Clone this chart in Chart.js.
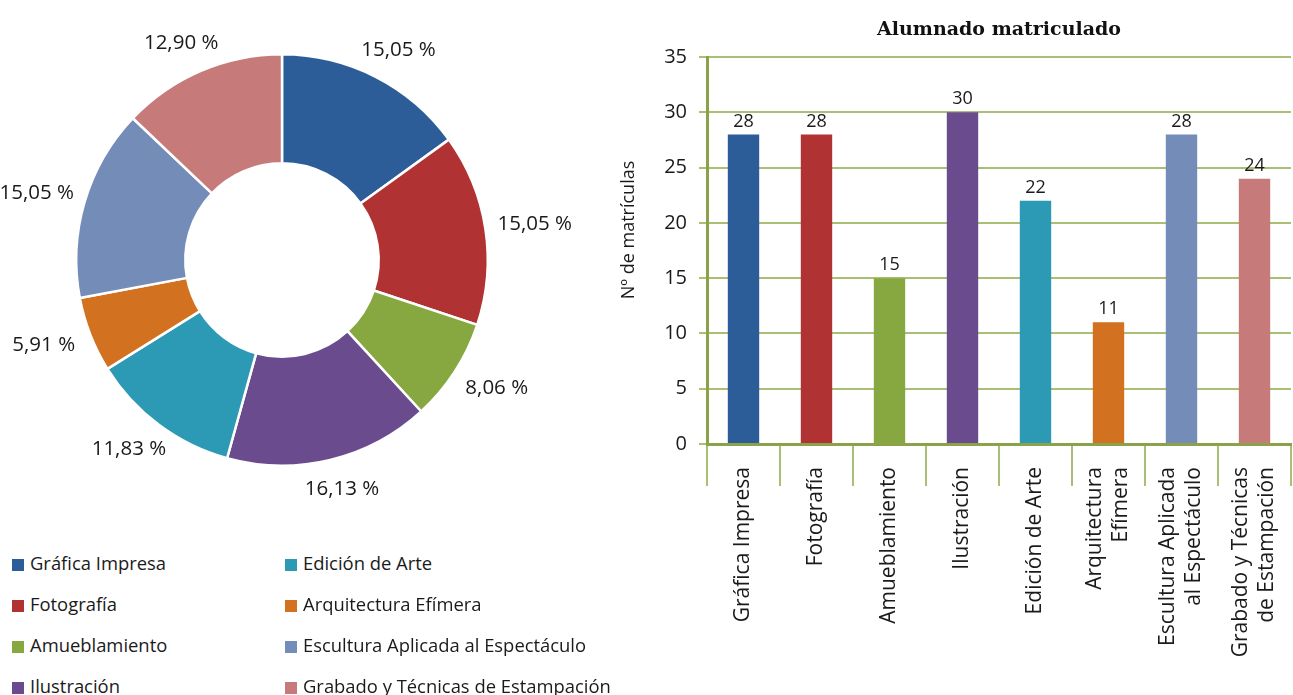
<!DOCTYPE html>
<html>
<head>
<meta charset="utf-8">
<script src="https://cdn.jsdelivr.net/npm/chart.js@4.4.0/dist/chart.umd.min.js"></script>
<style>
    body { margin: 0; background: #fff; width: 1293px; height: 695px; overflow: hidden; position: relative; font-family: 'Open Sans', sans-serif; }
    #pie-wrap { position: absolute; left: 0; top: 0; width: 600px; height: 520px; }
    #bar-wrap { position: absolute; left: 600px; top: 0; width: 693px; height: 695px; }
    .legend-item { position: absolute; font-size: 18.4px; line-height: 20px; color: #1a1a1a; white-space: nowrap; }
    .legend-item .box { display: inline-block; width: 12px; height: 12px; margin-right: 6px; vertical-align: -1px; }
</style>
</head>
<body>
<div id="pie-wrap"><canvas id="pie-chart"></canvas></div>
<div id="bar-wrap"><canvas id="bar-chart"></canvas></div>
<div id="legend"></div>

<script>
// Data
const categories = ['Gráfica Impresa', 'Fotografía', 'Amueblamiento', 'Ilustración', 'Edición de Arte', 'Arquitectura Efímera', 'Escultura Aplicada al Espectáculo', 'Grabado y Técnicas de Estampación'];
const axisLabels = [['Gráfica Impresa'], ['Fotografía'], ['Amueblamiento'], ['Ilustración'], ['Edición de Arte'], ['Arquitectura', 'Efímera'], ['Escultura Aplicada', 'al Espectáculo'], ['Grabado y Técnicas', 'de Estampación']];
const enrolled = [28, 28, 15, 30, 22, 11, 28, 24];
const shareLabels = ['15,05 %', '15,05 %', '8,06 %', '16,13 %', '11,83 %', '5,91 %', '15,05 %', '12,90 %'];
const colors = ['#2c5d98', '#b03232', '#87a840', '#6a4c8e', '#2d9ab5', '#d2711f', '#748cb8', '#c77a7a'];

const gridGreen = '#a9bf74';
const axisGreen = '#8ba24a';

// HTML legend, two columns
const legendEl = document.getElementById('legend');
categories.forEach((name, i) => {
    const item = document.createElement('div');
    item.className = 'legend-item';
    item.style.left = (12 + Math.floor(i / 4) * 273) + 'px';
    item.style.top = (553 + (i % 4) * 41) + 'px';
    item.innerHTML = `<span class="box" style="background:${colors[i]}"></span>${name}`;
    legendEl.appendChild(item);
});

// Percent labels outside the ring
const ringLabels = {
    id: 'ringLabels',
    afterDatasetsDraw(chart) {
        const ctx = chart.ctx;
        const meta = chart.getDatasetMeta(0);
        ctx.save();
        ctx.font = '20.5px "Open Sans"';
        ctx.fillStyle = '#1a1a1a';
        ctx.textAlign = 'center';
        ctx.textBaseline = 'middle';
        meta.data.forEach((arc, i) => {
            const mid = (arc.startAngle + arc.endAngle) / 2;
            const rx = arc.outerRadius + 50;
            const ry = arc.outerRadius + 30;
            ctx.fillText(shareLabels[i], arc.x + Math.cos(mid) * rx, arc.y + Math.sin(mid) * ry);
        });
        ctx.restore();
    }
};

new Chart(document.getElementById('pie-chart'), {
    type: 'doughnut',
    data: {
        labels: categories,
        datasets: [{
            data: enrolled,
            backgroundColor: colors,
            borderColor: '#fff',
            borderWidth: 2.5
        }]
    },
    options: {
        responsive: true,
        maintainAspectRatio: false,
        animation: false,
        cutout: '47%',
        layout: { padding: { top: 52, bottom: 52, left: 75, right: 111 } },
        plugins: {
            legend: { display: false },
            tooltip: { enabled: false }
        }
    },
    plugins: [ringLabels]
});

// Value labels over bars, category labels, chart title and y axis title
const barLabels = {
    id: 'barLabels',
    afterDatasetsDraw(chart) {
        const ctx = chart.ctx;
        const area = chart.chartArea;
        const xScale = chart.scales.x;
        const meta = chart.getDatasetMeta(0);
        ctx.save();
        ctx.font = '18px "Open Sans"';
        ctx.fillStyle = '#1a1a1a';
        ctx.textAlign = 'center';
        ctx.textBaseline = 'bottom';
        meta.data.forEach((bar, i) => {
            ctx.fillText(enrolled[i], bar.x, bar.y - 4);
        });

        // rotated category labels, multi-line ones centred on the tick
        ctx.font = '21px "Open Sans"';
        ctx.textAlign = 'right';
        ctx.textBaseline = 'middle';
        const lh = 26;
        axisLabels.forEach((lines, i) => {
            const x = xScale.getPixelForTick(i);
            lines.forEach((line, j) => {
                const off = (j - (lines.length - 1) / 2) * lh;
                ctx.save();
                ctx.translate(x + off, xScale.top + 23);
                ctx.rotate(-Math.PI / 2);
                ctx.fillText(line, 0, 0);
                ctx.restore();
            });
        });

        // title centred over the plot area
        ctx.textAlign = 'center';
        ctx.font = 'bold 19px "DejaVu Serif"';
        ctx.fillStyle = '#111';
        ctx.fillText('Alumnado matriculado', (area.left + area.right) / 2, 30);

        // y axis title
        ctx.translate(chart.scales.y.left + 29, 230);
        ctx.rotate(-Math.PI / 2);
        ctx.font = '18px "Open Sans"';
        ctx.fillStyle = '#1a1a1a';
        ctx.fillText('Nº de matrículas', 0, 0);
        ctx.restore();
    }
};

new Chart(document.getElementById('bar-chart'), {
    type: 'bar',
    data: {
        labels: axisLabels,
        datasets: [{
            label: 'Alumnado matriculado',
            data: enrolled,
            backgroundColor: colors,
            categoryPercentage: 1,
            barPercentage: 0.43
        }]
    },
    options: {
        responsive: true,
        maintainAspectRatio: false,
        animation: false,
        layout: { padding: { left: 0, right: 2, top: 57, bottom: 0 } },
        plugins: {
            legend: { display: false },
            tooltip: { enabled: false }
        },
        scales: {
            x: {
                afterFit(scale) { scale.height = 251; },
                grid: {
                    drawOnChartArea: false,
                    color: gridGreen,
                    lineWidth: 2,
                    tickLength: 42
                },
                border: { color: axisGreen, width: 3 },
                ticks: { display: false }
            },
            y: {
                min: 0,
                max: 35,
                afterFit(scale) { scale.width = 107; },
                ticks: {
                    stepSize: 5,
                    padding: 12,
                    color: '#1a1a1a',
                    font: { family: 'Open Sans', size: 20 }
                },
                grid: {
                    color: gridGreen,
                    lineWidth: 2,
                    tickLength: 8
                },
                border: { color: axisGreen, width: 3 }
            }
        }
    },
    plugins: [barLabels]
});
</script>
</body>
</html>
